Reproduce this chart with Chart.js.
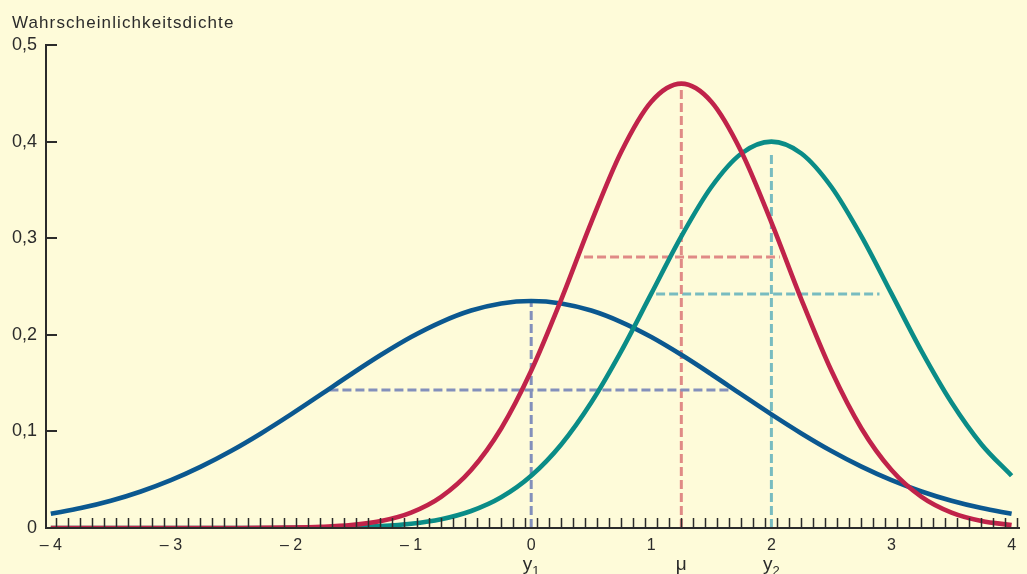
<!DOCTYPE html>
<html>
<head>
<meta charset="utf-8">
<script src="https://cdn.jsdelivr.net/npm/chart.js@4/dist/chart.umd.min.js"></script>
<style>
  html, body { margin: 0; padding: 0; background: #fefbd9; }
  #wrap { width: 1027px; height: 574px; position: relative; }
</style>
</head>
<body>
<div id="wrap"><canvas id="c" width="1027" height="574"></canvas></div>
<script>
// ---- data ----
const xValues = [-4, -3.75, -3.5, -3.25, -3, -2.75, -2.5, -2.25, -2, -1.75, -1.5, -1.25, -1, -0.75, -0.5, -0.25,
  0, 0.25, 0.5, 0.75, 1, 1.25, 1.5, 1.75, 2, 2.25, 2.5, 2.75, 3, 3.25, 3.5, 3.75, 4];

const blueDensity = [0.0148, 0.0206, 0.0282, 0.0378, 0.0495, 0.0635, 0.0797, 0.0979, 0.1176, 0.1383, 0.1592, 0.1793, 0.1977, 0.2132, 0.2251, 0.2325,
  0.235, 0.2325, 0.2251, 0.2132, 0.1977, 0.1793, 0.1592, 0.1383, 0.1176, 0.0979, 0.0797, 0.0635, 0.0495, 0.0378, 0.0282, 0.0206, 0.0148];

const redDensity = [0, 0, 0, 0, 0, 0.00001, 0.00004, 0.0001, 0.0004, 0.0012, 0.003, 0.0072, 0.0159, 0.0322, 0.06, 0.103,
  0.1627, 0.2365, 0.3164, 0.3895, 0.4413, 0.46, 0.4413, 0.3895, 0.3164, 0.2365, 0.1627, 0.103, 0.06, 0.0322, 0.0159, 0.0072, 0.003];

const tealDensity = [0, 0, 0, 0, 0, 0, 0.00002, 0.00005, 0.0001, 0.0004, 0.0009, 0.002, 0.0044, 0.0091, 0.0176, 0.0318,
  0.0541, 0.0865, 0.1299, 0.1831, 0.2426, 0.3019, 0.353, 0.3877, 0.4, 0.3877, 0.353, 0.3019, 0.2426, 0.1831, 0.1299, 0.0865, 0.0541];

const blueMeanLine = [{x: 0, y: 0}, {x: 0, y: 0.233}];
const blueSpreadLine = [{x: -1.68, y: 0.1429}, {x: 1.67, y: 0.1429}];
const redMeanLine = [{x: 1.25, y: 0}, {x: 1.25, y: 0.457}];
const redSpreadLine = [{x: 0.44, y: 0.2805}, {x: 2.07, y: 0.2805}];
const tealMeanLine = [{x: 2, y: 0}, {x: 2, y: 0.389}];
const tealSpreadLine = [{x: 1.04, y: 0.2422}, {x: 2.9, y: 0.2422}];

const yTickValues = [0, 0.1, 0.2, 0.3, 0.4, 0.5];
const yTickLabels = ['0', '0,1', '0,2', '0,3', '0,4', '0,5'];
const xTickValues = [-4, -3, -2, -1, 0, 1, 2, 3, 4];
const xTickLabels = ['– 4', '– 3', '– 2', '– 1', '0', '1', '2', '3', '4'];
const markerValues = [0, 1.25, 2];
const markerMain = ['y', 'μ', 'y'];
const markerSub = ['1', '', '2'];
const yAxisTitle = 'Wahrscheinlichkeitsdichte';

// ---- styling ----
const BG = '#fefbd9';
const INK = '#2b2b2b';
const FONT = "'Liberation Sans', Arial, sans-serif";

function series(values) {
  return xValues.map((x, i) => ({x: x, y: values[i]}));
}
function curve(label, values, color, order) {
  return {label, data: series(values), borderColor: color, borderWidth: 4.6, pointRadius: 0,
    cubicInterpolationMode: 'monotone', fill: false, order, borderCapStyle: 'butt'};
}
function guide(label, data, color) {
  return {label, data, borderColor: color, borderWidth: 3, borderDash: [9, 4], pointRadius: 0,
    fill: false, order: 10, tension: 0, borderCapStyle: 'butt'};
}

const decor = {
  id: 'decor',
  beforeDraw(chart) {
    const ctx = chart.ctx;
    ctx.save();
    ctx.fillStyle = BG;
    ctx.fillRect(0, 0, chart.width, chart.height);
    ctx.restore();
  },
  afterDatasetsDraw(chart) {
    const ctx = chart.ctx;
    const xs = chart.scales.x, ys = chart.scales.y;
    const area = chart.chartArea;
    const y0 = ys.getPixelForValue(0);
    ctx.save();
    ctx.strokeStyle = INK;
    // x axis line
    ctx.lineWidth = 2;
    ctx.beginPath();
    ctx.moveTo(area.left, y0);
    ctx.lineTo(area.right, y0);
    ctx.stroke();
    // minor ticks on x axis (every 0.1, pointing up)
    ctx.lineWidth = 1.5;
    ctx.beginPath();
    for (let k = 0; k <= 80; k++) {
      const v = -3.955 + k * 0.1;
      const px = Math.round(xs.getPixelForValue(v)) + 0.5;
      ctx.moveTo(px, y0);
      ctx.lineTo(px, y0 - 10);
    }
    ctx.stroke();
    // y ticks pointing right
    ctx.lineWidth = 2;
    ctx.beginPath();
    yTickValues.forEach(v => {
      if (v === 0) return;
      const py = Math.round(ys.getPixelForValue(v));
      ctx.moveTo(area.left - 1, py);
      ctx.lineTo(area.left + 11, py);
    });
    ctx.stroke();

    // x tick labels
    ctx.fillStyle = INK;
    ctx.font = '16px ' + FONT;
    ctx.textBaseline = 'middle';
    ctx.textAlign = 'center';
    xTickValues.forEach((v, i) => {
      const px = xs.getPixelForValue(v);
      ctx.fillText(xTickLabels[i], px, 546);
    });
    // marker labels under the axis
    markerValues.forEach((v, i) => {
      const px = xs.getPixelForValue(v);
      ctx.font = '19px ' + FONT;
      const wMain = ctx.measureText(markerMain[i]).width;
      ctx.font = '13px ' + FONT;
      const wSub = markerSub[i] ? ctx.measureText(markerSub[i]).width : 0;
      const total = wMain + wSub;
      const start = px - total / 2;
      ctx.textAlign = 'left';
      ctx.textBaseline = 'alphabetic';
      ctx.font = '19px ' + FONT;
      ctx.fillText(markerMain[i], start, 570);
      if (markerSub[i]) {
        ctx.font = '13px ' + FONT;
        ctx.fillText(markerSub[i], start + wMain, 575);
      }
    });
    // axis title
    ctx.font = '17px ' + FONT;
    ctx.textAlign = 'left';
    ctx.textBaseline = 'middle';
    try { ctx.letterSpacing = '1.1px'; } catch (e) {}
    ctx.fillText(yAxisTitle, 12, 23);
    ctx.restore();
  }
};

new Chart(document.getElementById('c'), {
  type: 'line',
  data: {
    datasets: [
      curve('rot', redDensity, '#c0234a', 1),
      curve('türkis', tealDensity, '#0a8c87', 2),
      curve('blau', blueDensity, '#0b5890', 3),
      guide('blau Mittel', blueMeanLine, '#8390bb'),
      guide('blau Streuung', blueSpreadLine, '#8390bb'),
      guide('rot Mittel', redMeanLine, '#e08a86'),
      guide('rot Streuung', redSpreadLine, '#e08a86'),
      guide('türkis Mittel', tealMeanLine, '#78bcc0'),
      guide('türkis Streuung', tealSpreadLine, '#78bcc0')
    ]
  },
  options: {
    responsive: false,
    animation: false,
    events: [],
    layout: {padding: {top: 45, bottom: 46, left: 0, right: 7}},
    plugins: {legend: {display: false}, tooltip: {enabled: false}, title: {display: false}},
    scales: {
      x: {type: 'linear', min: -4.04, max: 4.07, display: false},
      y: {
        type: 'linear', min: 0, max: 0.5,
        afterFit(s) { s.width = 46; },
        afterBuildTicks(s) { s.ticks = yTickValues.map(v => ({value: v})); },
        grid: {display: false, drawTicks: false},
        border: {display: true, color: INK, width: 2},
        ticks: {
          padding: 9,
          color: INK,
          font: {size: 18, family: FONT},
          callback: (v) => yTickLabels[yTickValues.indexOf(v)]
        }
      }
    }
  },
  plugins: [decor]
});
</script>
</body>
</html>
